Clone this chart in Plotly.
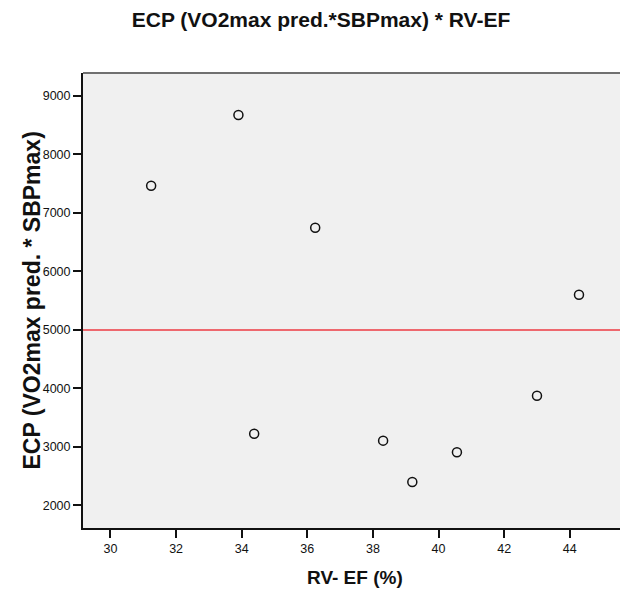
import plotly.graph_objects as go

# Data
rv_ef = [31.24, 33.90, 34.38, 36.24, 38.31, 39.20, 40.56, 43.00, 44.28]
ecp = [7467, 8675, 3227, 6749, 3108, 2402, 2909, 3877, 5603]
ref_value = 5000
x_ticks = [30, 32, 34, 36, 38, 40, 42, 44]
y_ticks = [2000, 3000, 4000, 5000, 6000, 7000, 8000, 9000]

W, H = 620, 589
L, R, T, B = 83, 0, 73, 61

fig = go.Figure()
fig.add_trace(go.Scatter(
    x=rv_ef, y=ecp, mode="markers",
    marker=dict(symbol="circle-open", size=9, color="#111111",
                line=dict(width=1.5, color="#111111")),
    showlegend=False, hoverinfo="x+y",
))

fig.add_shape(type="line", xref="paper", x0=0, x1=1, yref="y",
              y0=ref_value, y1=ref_value,
              line=dict(color="#ee3b43", width=1.6))
fig.add_shape(type="line", xref="paper", x0=0, x1=1, yref="paper",
              y0=1, y1=1, line=dict(color="#707070", width=2))

font_family = "Liberation Sans, Arial, sans-serif"
fig.update_layout(
    width=W, height=H,
    margin=dict(l=L, r=R, t=T, b=B, pad=0),
    paper_bgcolor="white", plot_bgcolor="#f0f0f0",
    font=dict(family=font_family, color="#111111", size=12),
    title=dict(text="<b>ECP (VO2max pred.*SBPmax) * RV-EF</b>",
               x=321 / W, xanchor="center", xref="container",
               y=1 - 20 / H, yanchor="middle", yref="container",
               font=dict(size=21, family=font_family, color="#111111")),
    xaxis=dict(range=[29.163, 45.53], tickvals=x_ticks,
               ticktext=[str(v) for v in x_ticks],
               showgrid=False, zeroline=False, showline=True,
               linecolor="#111111", linewidth=2,
               ticks="outside", ticklen=8, tickwidth=2, tickcolor="#111111",
               tickfont=dict(size=12.5, color="#111111")),
    yaxis=dict(range=[1615, 9393], tickvals=y_ticks,
               ticktext=[str(v) for v in y_ticks],
               showgrid=False, zeroline=False, showline=True,
               linecolor="#111111", linewidth=2,
               ticks="outside", ticklen=8, tickwidth=2, tickcolor="#111111",
               tickfont=dict(size=12.5, color="#111111")),
    annotations=[
        dict(text="<b>RV- EF (%)</b>", xref="paper", yref="paper",
             x=(355 - L) / (W - L), y=(T + (H - T - B) - 577) / (H - T - B),
             xanchor="center", yanchor="middle", showarrow=False,
             font=dict(size=19, family=font_family, color="#111111")),
        dict(text="<b>ECP (VO2max pred. * SBPmax)</b>", xref="paper", yref="paper",
             x=(31 - L) / (W - L), y=0.5, textangle=-90,
             xanchor="center", yanchor="middle", showarrow=False,
             font=dict(size=23, family=font_family, color="#111111")),
    ],
)

fig.write_html("out.html",
               config={"displayModeBar": False},
               post_script="document.body.style.margin='0px';document.body.style.overflow='hidden';")
